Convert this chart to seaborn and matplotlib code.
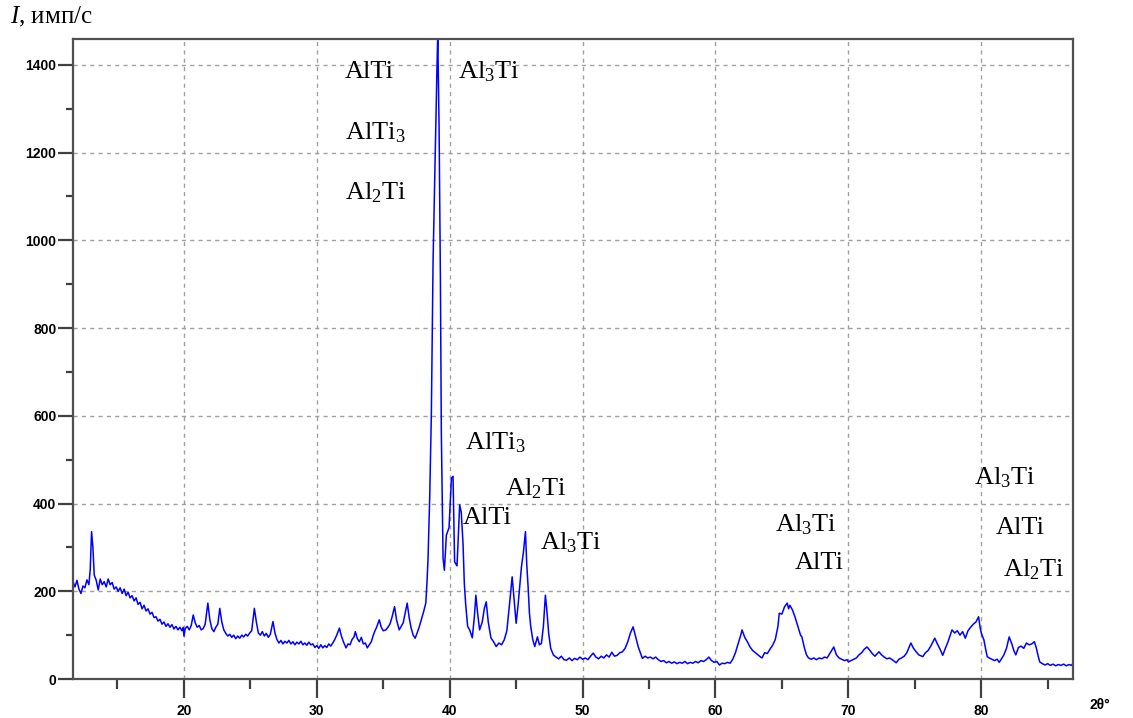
import matplotlib
matplotlib.use('Agg')
import matplotlib.pyplot as plt
import seaborn as sns
import pandas as pd
from matplotlib.ticker import MultipleLocator

# XRD pattern (2theta in degrees, intensity in counts/s)
two_theta = [
    11.65, 11.8, 11.95, 12.1, 12.25, 12.4, 12.55, 12.7, 12.85, 12.95, 13.05, 13.15, 13.25, 13.4, 13.55,
    13.7, 13.85, 14.0, 14.15, 14.3, 14.45, 14.6, 14.75, 14.9, 15.05, 15.2, 15.35, 15.5, 15.65, 15.8,
    15.95, 16.1, 16.25, 16.4, 16.55, 16.7, 16.85, 17.0, 17.15, 17.3, 17.45, 17.6, 17.75, 17.9, 18.05,
    18.2, 18.35, 18.5, 18.65, 18.8, 18.95, 19.1, 19.25, 19.4, 19.55, 19.7, 19.85, 19.95, 20.0, 20.1,
    20.25, 20.4, 20.55, 20.7, 20.85, 21.0, 21.15, 21.3, 21.45, 21.6, 21.8, 21.95, 22.1, 22.25, 22.4,
    22.55, 22.7, 22.85, 23.0, 23.15, 23.3, 23.45, 23.6, 23.75, 23.9, 24.05, 24.2, 24.35, 24.5, 24.65,
    24.8, 24.95, 25.1, 25.3, 25.45, 25.6, 25.75, 25.9, 26.05, 26.2, 26.35, 26.5, 26.7, 26.85, 27.0,
    27.15, 27.3, 27.45, 27.6, 27.75, 27.9, 28.05, 28.2, 28.35, 28.5, 28.65, 28.8, 28.95, 29.1, 29.25,
    29.4, 29.55, 29.7, 29.85, 30.0, 30.15, 30.3, 30.45, 30.6, 30.75, 30.9, 31.05, 31.2, 31.35, 31.5,
    31.7, 31.85, 32.0, 32.2, 32.35, 32.5, 32.65, 32.8, 32.9, 33.05, 33.2, 33.35, 33.5, 33.65, 33.8,
    33.95, 34.1, 34.25, 34.35, 34.5, 34.7, 34.85, 35.0, 35.2, 35.35, 35.5, 35.65, 35.85, 36.0, 36.2,
    36.35, 36.5, 36.65, 36.8, 36.95, 37.1, 37.25, 37.4, 37.55, 37.7, 37.9, 38.05, 38.2, 38.3, 38.37,
    38.5, 38.62, 38.75, 38.92, 39.04, 39.1, 39.2, 39.3, 39.37, 39.5, 39.6, 39.75, 39.95, 40.13, 40.25,
    40.37, 40.55, 40.75, 40.87, 41.0, 41.1, 41.2, 41.35, 41.5, 41.7, 41.85, 41.97, 42.1, 42.25, 42.45,
    42.6, 42.75, 42.9, 43.1, 43.3, 43.5, 43.7, 43.9, 44.1, 44.3, 44.5, 44.7, 44.85, 45.0, 45.15,
    45.3, 45.4, 45.55, 45.7, 45.8, 45.9, 46.0, 46.1, 46.25, 46.4, 46.6, 46.75, 46.9, 47.05, 47.2,
    47.3, 47.45, 47.6, 47.8, 48.0, 48.2, 48.4, 48.6, 48.8, 49.0, 49.2, 49.4, 49.6, 49.8, 50.0,
    50.2, 50.4, 50.6, 50.8, 51.0, 51.2, 51.4, 51.6, 51.8, 52.0, 52.2, 52.4, 52.6, 52.8, 53.0,
    53.2, 53.4, 53.6, 53.8, 54.0, 54.2, 54.4, 54.5, 54.7, 54.9, 55.1, 55.3, 55.5, 55.7, 55.9,
    56.1, 56.3, 56.5, 56.7, 56.9, 57.1, 57.3, 57.5, 57.7, 57.9, 58.1, 58.3, 58.5, 58.7, 58.9,
    59.1, 59.3, 59.5, 59.7, 59.9, 60.1, 60.3, 60.5, 60.7, 60.9, 61.1, 61.3, 61.5, 61.7, 61.9,
    62.0, 62.2, 62.4, 62.6, 62.8, 63.0, 63.2, 63.4, 63.5, 63.7, 63.9, 64.1, 64.3, 64.5, 64.7,
    64.8, 65.0, 65.2, 65.4, 65.5, 65.6, 65.8, 66.0, 66.2, 66.4, 66.5, 66.7, 66.85, 67.0, 67.2,
    67.4, 67.6, 67.8, 68.0, 68.2, 68.4, 68.6, 68.9, 69.1, 69.3, 69.5, 69.7, 69.9, 70.0, 70.2,
    70.4, 70.6, 70.8, 71.0, 71.2, 71.4, 71.6, 71.8, 72.0, 72.3, 72.5, 72.7, 72.9, 73.1, 73.3,
    73.6, 73.8, 74.0, 74.2, 74.4, 74.7, 74.9, 75.1, 75.3, 75.6, 75.8, 76.0, 76.2, 76.5, 76.7,
    76.9, 77.1, 77.3, 77.5, 77.8, 78.0, 78.2, 78.4, 78.6, 78.8, 79.0, 79.2, 79.4, 79.6, 79.8,
    79.9, 80.0, 80.2, 80.35, 80.45, 80.6, 80.8, 81.0, 81.2, 81.35, 81.5, 81.7, 81.9, 82.1, 82.3,
    82.45, 82.6, 82.8, 83.0, 83.2, 83.4, 83.6, 83.8, 84.0, 84.15, 84.3, 84.4, 84.6, 84.8, 85.0,
    85.2, 85.4, 85.6, 85.8, 86.0, 86.2, 86.4, 86.6, 86.8, 86.9,
]
intensity = [
    222, 210, 225, 205, 195, 212, 208, 226, 215, 250, 336, 300, 237, 225, 203,
    228, 215, 222, 210, 228, 215, 220, 205, 210, 200, 208, 195, 205, 190, 198,
    185, 190, 178, 185, 170, 175, 160, 168, 155, 160, 148, 152, 140, 142, 132,
    136, 125, 130, 120, 126, 118, 124, 114, 120, 112, 118, 110, 118, 98, 115,
    120, 112, 122, 146, 128, 118, 122, 112, 115, 125, 173, 135, 115, 108, 118,
    125, 161, 130, 112, 104, 98, 102, 95, 100, 92, 98, 93, 100, 96, 102,
    98, 105, 110, 161, 130, 105, 100, 108, 98, 104, 95, 102, 131, 105, 90,
    82, 88, 80, 86, 82, 88, 80, 85, 78, 84, 80, 86, 78, 82, 77,
    84, 78, 80, 72, 76, 70, 78, 71, 76, 72, 80, 75, 82, 90, 100,
    116, 98, 85, 71, 80, 78, 90, 96, 108, 92, 85, 95, 80, 82, 71,
    78, 85, 100, 108, 118, 135, 118, 110, 112, 118, 125, 140, 165, 135, 112,
    120, 128, 150, 173, 140, 116, 100, 93, 105, 118, 139, 155, 173, 226, 275,
    420, 606, 955, 1217, 1391, 1470, 1261, 912, 563, 275, 248, 328, 345, 458, 462,
    267, 258, 397, 380, 310, 218, 171, 120, 112, 94, 140, 191, 150, 112, 130,
    160, 176, 130, 94, 85, 74, 82, 78, 89, 110, 170, 233, 180, 127, 170,
    220, 256, 290, 336, 260, 210, 150, 119, 90, 74, 96, 78, 81, 120, 191,
    160, 104, 70, 55, 50, 46, 52, 44, 43, 48, 42, 47, 44, 50, 45,
    48, 44, 52, 59, 50, 46, 52, 48, 55, 50, 61, 52, 54, 60, 62,
    70, 85, 105, 119, 95, 72, 55, 47, 52, 48, 50, 46, 50, 44, 40,
    42, 37, 40, 36, 39, 35, 38, 36, 40, 35, 38, 36, 40, 37, 42,
    40, 44, 50, 42, 38, 40, 32, 36, 35, 38, 36, 45, 60, 80, 100,
    112, 95, 85, 73, 65, 60, 55, 50, 48, 60, 58, 68, 77, 90, 120,
    150, 148, 165, 173, 160, 168, 157, 140, 120, 100, 96, 70, 55, 48, 45,
    48, 44, 48, 46, 50, 48, 58, 73, 55, 48, 45, 42, 44, 39, 42,
    45, 48, 55, 60, 68, 73, 66, 58, 52, 62, 55, 50, 46, 48, 44,
    37, 45, 48, 52, 60, 82, 70, 62, 55, 51, 60, 65, 75, 93, 80,
    68, 54, 70, 85, 112, 105, 110, 100, 108, 93, 110, 118, 125, 130, 142,
    120, 105, 89, 65, 51, 48, 45, 42, 45, 38, 45, 55, 70, 96, 80,
    65, 55, 72, 75, 70, 82, 78, 80, 85, 70, 50, 39, 35, 32, 35,
    31, 34, 30, 33, 31, 34, 30, 33, 31, 36,
]

# phase labels: text, 2theta, intensity
phase_text = ['AlTi', 'AlTi$_3$', 'Al$_2$Ti', 'Al$_3$Ti', 'AlTi$_3$', 'Al$_2$Ti', 'AlTi',
              'Al$_3$Ti', 'Al$_3$Ti', 'AlTi', 'Al$_3$Ti', 'AlTi', 'Al$_2$Ti']
phase_x = [32.1, 32.1, 32.1, 40.6, 41.13, 44.14, 40.98, 46.77, 64.5, 66.0, 79.47, 81.1, 81.6]
phase_y = [1384, 1245, 1108, 1384, 538, 433, 367, 310, 351, 264, 458, 344, 249]

sns.set_style('white')
plt.rcParams['mathtext.fontset'] = 'custom'
plt.rcParams['mathtext.rm'] = 'Liberation Serif'
plt.rcParams['mathtext.it'] = 'Liberation Serif:italic'
plt.rcParams['mathtext.default'] = 'rm'

df = pd.DataFrame({'two_theta': two_theta, 'intensity': intensity})

fig = plt.figure(figsize=(11.33, 7.18), dpi=100)
ax = fig.add_axes([0.0644, 0.0543, 0.8826, 0.8914])

sns.lineplot(data=df, x='two_theta', y='intensity', ax=ax, color='#0000ff',
             linewidth=1.1, sort=False, estimator=None)

ax.set_xlim(11.65, 86.9)
ax.set_ylim(0, 1459)
ax.xaxis.set_major_locator(MultipleLocator(10))
ax.xaxis.set_minor_locator(MultipleLocator(5))
ax.yaxis.set_major_locator(MultipleLocator(200))
ax.yaxis.set_minor_locator(MultipleLocator(100))

ax.grid(True, which='major', color='#a0a0a0', linestyle=(0, (3, 3)), linewidth=1)
ax.set_axisbelow(True)
for sp in ax.spines.values():
    sp.set_color('#505050')
    sp.set_linewidth(1.6)

ax.tick_params(which='both', bottom=True, left=True, top=False, right=False,
               direction='out', width=1.6, color='#404040', labelcolor='black')
ax.tick_params(axis='y', which='major', length=11, labelsize=10, pad=1)
ax.tick_params(axis='y', which='minor', length=5)
ax.tick_params(axis='x', which='major', length=14, labelsize=10, pad=4)
ax.tick_params(axis='x', which='minor', length=7)
for lab in ax.get_xticklabels() + ax.get_yticklabels():
    lab.set_fontweight('bold')
    lab.set_family('Liberation Sans')
ax.set_xlabel('')
ax.set_ylabel('')

for t, x, y in zip(phase_text, phase_x, phase_y):
    ax.text(x, y, t, fontsize=19, family='Liberation Serif', color='black',
            ha='left', va='center')

fig.text(10 / 1133, 1 - 17 / 718, '$\\mathit{I}$, имп/с', fontsize=18,
         family='Liberation Serif', color='black', ha='left', va='center')
fig.text(1090 / 1133, 1 - 705 / 718, '2θ°', fontsize=10, fontweight='bold',
         family='Liberation Sans', color='black', ha='left', va='center')

fig.savefig('out.png', dpi=100)
